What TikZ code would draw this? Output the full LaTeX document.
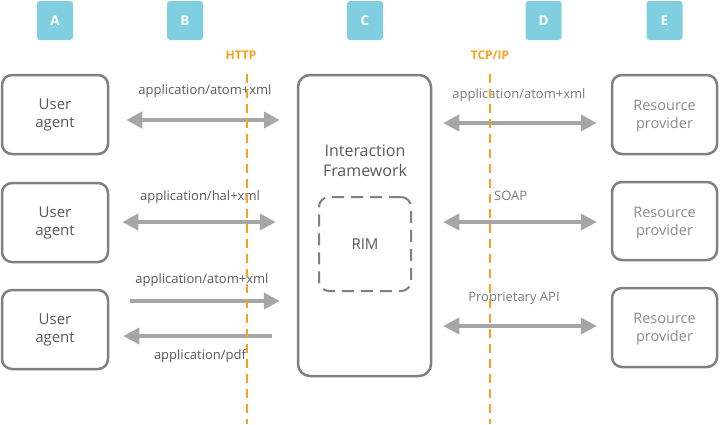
\documentclass[tikz,border=0pt]{standalone}
\usepackage{fontspec}
\setmainfont{Open Sans}
\usetikzlibrary{arrows.meta,calc}
\definecolor{tagblue}{HTML}{7FCFE1}
\definecolor{boxgray}{HTML}{808080}
\definecolor{arrgray}{HTML}{A6A6A6}
\definecolor{txtdark}{HTML}{595959}
\definecolor{txtlight}{HTML}{8A8A8A}
\definecolor{lblright}{HTML}{7A7A7A}
\definecolor{protoorange}{HTML}{F7A21B}
\tikzset{
  tag/.style={fill=tagblue, rounded corners=3pt, minimum width=36pt, minimum height=39pt, inner sep=0pt, text=white, font=\bfseries\fontsize{13.5}{15}\selectfont},
  agentbox/.style={draw=boxgray, line width=2.5pt, rounded corners=10pt, minimum width=106pt, minimum height=79pt, inner sep=0pt, align=center, text=txtdark, font=\fontsize{15}{18}\selectfont},
  provbox/.style={draw=boxgray, line width=2.5pt, rounded corners=10pt, minimum width=105pt, minimum height=79pt, inner sep=0pt},
  provtext/.style={align=center, inner sep=0pt, text=txtlight, font=\fontsize{14.5}{18}\selectfont},
  framebox/.style={draw=boxgray, line width=2.5pt, rounded corners=12pt, minimum width=133pt, minimum height=301pt, inner sep=0pt},
  rimbox/.style={draw=boxgray, line width=2pt, dash pattern=on 12pt off 7pt, rounded corners=10pt, minimum width=92pt, minimum height=94pt, inner sep=0pt, text=txtdark, font=\fontsize{15}{18}\selectfont},
  proto/.style={text=protoorange, font=\bfseries\fontsize{12}{14}\selectfont, inner sep=0pt},
  protoline/.style={draw=protoorange, line width=2pt, dash pattern=on 9pt off 6pt},
  lbl/.style={text=txtdark, font=\fontsize{13}{15}\selectfont, inner sep=0pt},
  lblr/.style={text=lblright, font=\fontsize{13}{15}\selectfont, inner sep=0pt},
  dbl/.style={draw=arrgray, line width=4pt, {Triangle[length=16pt,width=16pt]}-{Triangle[length=16pt,width=16pt]}},
  sgl/.style={draw=arrgray, line width=4pt, -{Triangle[length=16pt,width=16pt]}},
}
\begin{document}
\begin{tikzpicture}[x=1pt,y=-1pt]
\useasboundingbox (0,0) rectangle (720,424);
% column tags
\node[tag] (tA) at (55,20.5) {A};
\node[tag] (tB) at (185,20.5) {B};
\node[tag] (tC) at (365,20.5) {C};
\node[tag] (tD) at (543.5,20.5) {D};
\node[tag] (tE) at (664.5,20.5) {E};
% protocol lines
\node[proto] (http) at (241,55) {HTTP};
\node[proto] (tcp) at (490,55) {TCP/IP};
\coordinate (h1) at (246.5,74);
\coordinate (h2) at (246.5,424);
\coordinate (t1) at (490,74);
\coordinate (t2) at (490,424);
% boxes
\node[agentbox] (ua1) at (55,114.5) {User\\agent};
\node[agentbox] (ua2) at (55,222.5) {User\\agent};
\node[agentbox] (ua3) at (55,329.5) {User\\agent};
\node[provbox] (rp1) at (664.5,114.5) {};
\node[provbox, minimum height=78pt] (rp2) at (664.5,221) {};
\node[provbox] (rp3) at (664.5,327.5) {};
\node[provtext] (rp1t) at ([yshift=-2pt]rp1.center) {Resource\\provider};
\node[provtext] (rp2t) at ([yshift=-2pt]rp2.center) {Resource\\provider};
\node[provtext] (rp3t) at ([yshift=-2pt]rp3.center) {Resource\\provider};
\node[framebox] (ifw) at (364.5,225.5) {};
\node[text=txtdark, font=\fontsize{16}{20}\selectfont, align=center, inner sep=0pt] (ifwt) at (365,161) {Interaction\\Framework};
\node[rimbox] (rim) at (365,244) {RIM};
% left arrows
\draw[dbl] ([xshift=17pt,yshift=-5.5pt]ua1.east) -- ([xshift=-17pt,yshift=-5.5pt]ua1.east -| ifw.west);
\draw[dbl] ([xshift=13pt,yshift=0.5pt]ua2.east) -- ([xshift=-21pt,yshift=0.5pt]ua2.east -| ifw.west);
\draw[sgl] ([xshift=21pt,yshift=28.5pt]ua3.east) -- ([xshift=-17pt,yshift=28.5pt]ua3.east -| ifw.west);
\draw[sgl] ([xshift=-25pt,yshift=-6.5pt]ua3.east -| ifw.west) -- ([xshift=14pt,yshift=-6.5pt]ua3.east);
% right arrows
\draw[dbl] ([xshift=11pt,yshift=-8.5pt]ifw.east |- rp1.center) -- ([xshift=-14pt,yshift=-8.5pt]rp1.west);
\draw[dbl] ([xshift=11pt,yshift=-1pt]ifw.east |- rp2.center) -- ([xshift=-14pt,yshift=-1pt]rp2.west);
\draw[dbl] ([xshift=11pt,yshift=1.5pt]ifw.east |- rp3.center) -- ([xshift=-14pt,yshift=1.5pt]rp3.west);
% labels
\node[lbl] (l1) at (205,91) {application/atom+xml};
\node[lbl] (l2) at (200,197) {application/hal+xml};
\node[lbl] (l3) at (202,280) {application/atom+xml};
\node[lbl] (l4) at (200,356) {application/pdf};
\node[lblr] (r1) at (519,95) {application/atom+xml};
\node[lblr, anchor=west] (r2) at (494,196) {SOAP};
\node[lblr] (r3) at (514,298) {Proprietary API};
% protocol dashed lines (on top)
\draw[protoline] (h1) -- (h2);
\draw[protoline] (t1) -- (t2);
\end{tikzpicture}
\end{document}
